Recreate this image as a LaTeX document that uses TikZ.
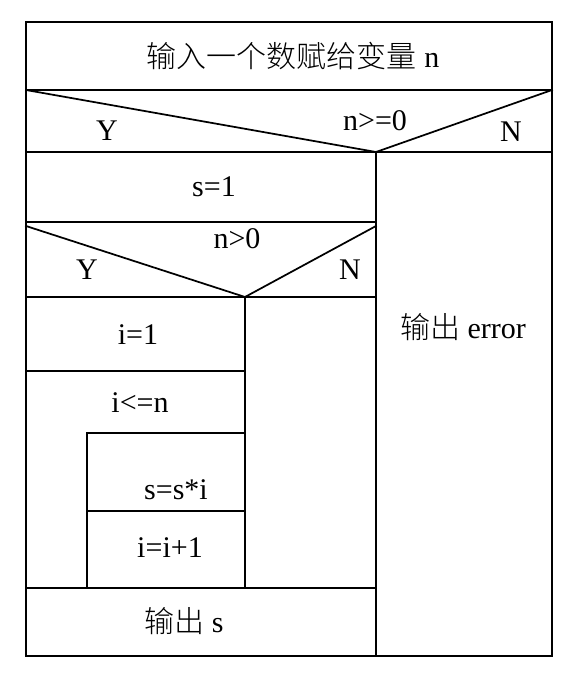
\documentclass[tikz,border=0pt]{standalone}
\usepackage{fontspec}
\setmainfont{Liberation Serif}
\newfontfamily\cjk{Noto Sans CJK SC}[UprightFont={* Light}]
\usepackage{tikz}

\begin{document}
\begin{tikzpicture}[
        x=0.75pt, y=-0.75pt,
        rule/.style={line width=1.3pt, line cap=rect},
        lbl/.style={inner sep=0pt, font=\fontsize{22.5}{26}\selectfont}
      ]
      \useasboundingbox (0,0) rectangle (579,675);

      % frame and rows
      \draw[rule] (26,22) rectangle (552,656);
      \draw[rule] (26,90) -- (552,90);
      \draw[rule] (26,152) -- (552,152);
      \draw[rule] (376,152) -- (376,656);
      \draw[rule] (26,222) -- (376,222);
      \draw[rule] (26,297) -- (376,297);
      \draw[rule] (245,297) -- (245,588);
      \draw[rule] (26,371) -- (245,371);
      \draw[rule] (87,588) -- (87,433) -- (245,433);
      \draw[rule] (87,511) -- (245,511);
      \draw[rule] (26,588) -- (376,588);

      % decisions
      \draw[rule] (26,90) -- (376,152) -- (552,90);
      \draw[rule] (26,226) -- (245,297) -- (376,226);

      \node[lbl] (input) at (293,56) {{\cjk 输入一个数赋给变量} n};
      \node[lbl] (yes1) at (107,131) {Y};
      \node[lbl] (cond1) at (375,121) {n>=0};
      \node[lbl] (no1) at (511,132) {N};
      \node[lbl] (sinit) at (214,187) {s=1};
      \node[lbl] (yes2) at (87,270) {Y};
      \node[lbl] (cond2) at (237,239) {n>0};
      \node[lbl] (no2) at (350,270) {N};
      \node[lbl] (iinit) at (138,335) {i=1};
      \node[lbl] (loop) at (140,403) {i<=n};
      \node[lbl] (mult) at (176,490) {s=s*i};
      \node[lbl] (incr) at (170,548) {i=i+1};
      \node[lbl] (outs) at (184,621) {{\cjk 输出} s};
      \node[lbl] (outerr) at (463,327) {{\cjk 输出} error};
    \end{tikzpicture}
\end{document}
